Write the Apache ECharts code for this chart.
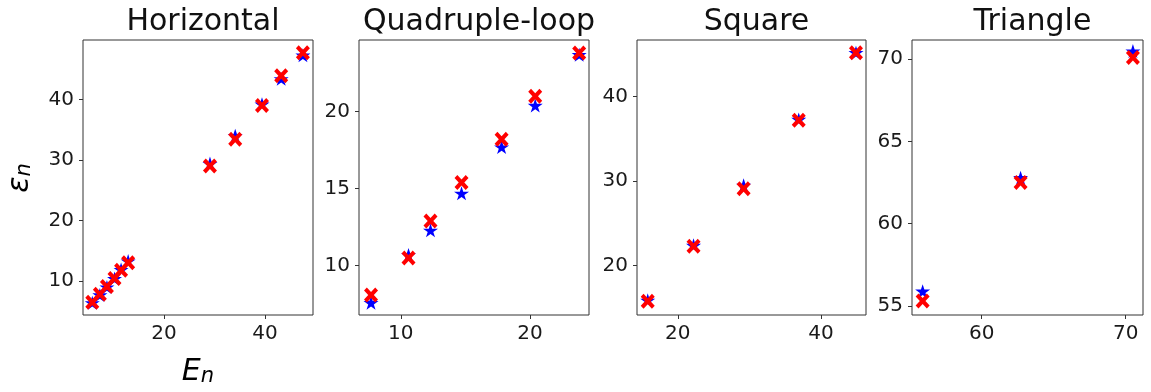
<!DOCTYPE html>
<html>
<head>
<meta charset="utf-8">
<script src="https://cdn.jsdelivr.net/npm/echarts@6/dist/echarts.min.js"></script>
<style>
  html, body { margin: 0; padding: 0; background: #fff; }
  #main { width: 1151px; height: 392px; }
</style>
</head>
<body>
<div id="main"></div>
<script>
// panel titles
const titles = ['Horizontal', 'Quadruple-loop', 'Square', 'Triangle'];

// Horizontal
const horizE = [5.8, 7.3, 8.7, 10.2, 11.5, 12.9, 29.1, 34.1, 39.4, 43.2, 47.5];
const horizBlue = [6.4, 7.7, 9.0, 10.4, 11.9, 13.3, 29.4, 34.0, 39.2, 43.4, 47.3];
const horizRed = [6.5, 7.8, 9.1, 10.4, 11.8, 13.0, 29.0, 33.4, 39.0, 43.9, 47.7];

// Quadruple-loop
const quadE = [7.7, 10.6, 12.3, 14.7, 17.8, 20.4, 23.8];
const quadBlue = [7.6, 10.7, 12.3, 14.7, 17.7, 20.4, 23.7];
const quadRed = [8.1, 10.5, 12.9, 15.4, 18.2, 21.0, 23.8];

// Square
const squareE = [15.8, 22.2, 29.2, 36.9, 44.9];
const squareBlue = [15.9, 22.4, 29.5, 37.3, 45.2];
const squareRed = [15.8, 22.3, 29.1, 37.2, 45.2];

// Triangle
const triE = [55.9, 62.7, 70.5];
const triBlue = [55.9, 62.8, 70.5];
const triRed = [55.3, 62.5, 70.1];

// tick labels
const xTicks = [[20, 40], [10, 20], [20, 40], [60, 70]];
const yTicks = [[10, 20, 30, 40], [10, 15, 20], [20, 30, 40], [55, 60, 65, 70]];

const panels = [
  { x: horizE, blue: horizBlue, red: horizRed },
  { x: quadE, blue: quadBlue, red: quadRed },
  { x: squareE, blue: squareBlue, red: squareRed },
  { x: triE, blue: triBlue, red: triRed }
];

// axis extents
const xRange = [[3.96, 49.5], [6.77, 24.56], [14.3, 46.3], [55.16, 71.2]];
const yRange = [[4.39, 49.8], [6.8, 24.65], [14.16, 46.7], [54.45, 71.17]];
const gridLeft = [83, 359, 637, 912];
const gridWidth = [230, 230, 229, 231];

const FONT = 'DejaVu Sans';
const starPath = 'path://M50,0 L61,35 L98,35 L68,57 L79,91 L50,70 L21,91 L32,57 L2,35 L39,35 Z';
const xPath = 'path://M2,0 L5,3 L8,0 L10,2 L7,5 L10,8 L8,10 L5,7 L2,10 L0,8 L3,5 L0,2 Z';

const pairs = (xs, ys) => xs.map((v, i) => [v, ys[i]]);

let myChart = echarts.init(document.getElementById('main'));

const subLabel = {
  a: { fontFamily: FONT, fontStyle: 'italic', fontSize: 30, color: '#111', verticalAlign: 'bottom', lineHeight: 34 },
  b: { fontFamily: FONT, fontStyle: 'italic', fontSize: 21, color: '#111', verticalAlign: 'bottom', lineHeight: 28 }
};

myChart.setOption({
  animation: false,
  backgroundColor: '#fff',
  title: titles.map((t, i) => ({
    text: t,
    left: gridLeft[i] + gridWidth[i] / 2,
    top: 2,
    textAlign: 'center',
    textStyle: { fontFamily: FONT, fontSize: 30, fontWeight: 'normal', color: '#111' }
  })),
  grid: gridLeft.map((l, i) => ({
    left: l, top: 40, width: gridWidth[i], height: 275,
    show: true, borderColor: '#333', borderWidth: 1, backgroundColor: 'transparent'
  })),
  xAxis: xRange.map((r, i) => ({
    type: 'value', gridIndex: i, min: r[0], max: r[1],
    splitLine: { show: false },
    axisLine: { show: false },
    axisTick: { show: true, inside: false, length: 4, lineStyle: { color: '#333' }, customValues: xTicks[i] },
    axisLabel: { customValues: xTicks[i], margin: 9, fontFamily: FONT, fontSize: 20, color: '#1a1a1a' }
  })),
  yAxis: yRange.map((r, i) => ({
    type: 'value', gridIndex: i, min: r[0], max: r[1],
    splitLine: { show: false },
    axisLine: { show: false },
    axisTick: { show: true, inside: false, length: 4, lineStyle: { color: '#333' }, customValues: yTicks[i] },
    axisLabel: { customValues: yTicks[i], margin: 9, fontFamily: FONT, fontSize: 20, color: '#1a1a1a' }
  })),
  graphic: [
    {
      type: 'text', x: 18, y: 178, rotation: Math.PI / 2, z: 10,
      style: { text: '{a|ε}{b|n}', textAlign: 'center', textVerticalAlign: 'middle', rich: subLabel }
    },
    {
      type: 'text', x: 198, y: 370, z: 10,
      style: { text: '{a|E}{b|n}', textAlign: 'center', textVerticalAlign: 'middle', rich: subLabel }
    }
  ],
  series: panels.flatMap((p, i) => [
    {
      type: 'scatter', xAxisIndex: i, yAxisIndex: i,
      symbol: starPath, symbolSize: [15, 14],
      itemStyle: { color: '#0000ff', opacity: 1 },
      data: pairs(p.x, p.blue), z: 2
    },
    {
      type: 'scatter', xAxisIndex: i, yAxisIndex: i,
      symbol: xPath, symbolSize: [14, 15],
      itemStyle: { color: '#ff0000', opacity: 1 },
      data: pairs(p.x, p.red), z: 3
    }
  ])
});

window.onresize = function () {
  myChart.resize();
}
</script>
</body>
</html>
